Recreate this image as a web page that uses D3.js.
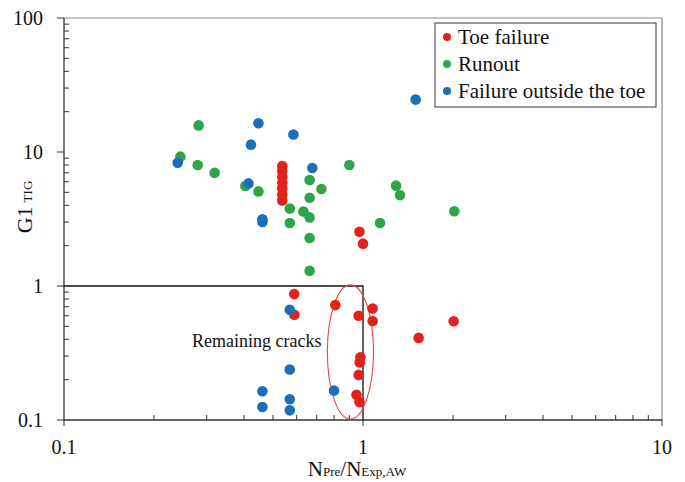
<!DOCTYPE html>
<html>
<head>
<meta charset="utf-8">
<script src="https://cdn.jsdelivr.net/npm/d3@7"></script>
<style>
  body { margin: 0; background: #fff; }
  svg text { font-family: "Liberation Serif", "Times New Roman", serif; fill: #111; }
</style>
</head>
<body>
<div id="chart"></div>
<script>
// values
const toeX = [0.537, 0.537, 0.537, 0.537, 0.537, 0.537, 0.537, 0.973, 1.0, 0.589, 0.589, 0.808, 0.967, 1.077, 1.077, 2.01, 1.535, 0.98, 0.975, 0.967, 0.951, 0.973];
const toeY = [7.85, 7.2, 6.5, 5.9, 5.35, 4.8, 4.35, 2.54, 2.07, 0.87, 0.61, 0.72, 0.60, 0.68, 0.548, 0.545, 0.41, 0.294, 0.269, 0.217, 0.154, 0.136];

const runX = [0.282, 0.245, 0.280, 0.319, 0.404, 0.447, 0.569, 0.569, 0.632, 0.663, 0.663, 0.663, 0.663, 0.663, 0.726, 0.90, 1.29, 1.33, 1.14, 2.02];
const runY = [15.8, 9.23, 8.0, 7.0, 5.57, 5.08, 3.78, 2.95, 3.59, 6.18, 4.56, 3.25, 2.28, 1.30, 5.3, 8.0, 5.61, 4.75, 2.95, 3.61];

const outX = [1.50, 0.447, 0.585, 0.422, 0.240, 0.677, 0.414, 0.461, 0.461, 0.569, 0.569, 0.461, 0.461, 0.569, 0.569, 0.80];
const outY = [24.6, 16.4, 13.5, 11.35, 8.32, 7.6, 5.83, 3.15, 3.0, 0.665, 0.238, 0.164, 0.125, 0.143, 0.118, 0.166];

const seriesNames = ["Toe failure", "Runout", "Failure outside the toe"];
const seriesColors = ["#e3231b", "#2ea548", "#1b6fb8"];

const xTicks = [0.1, 1, 10];
const yTicks = [0.1, 1, 10, 100];
const xTickLabels = ["0.1", "1", "10"];
const yTickLabels = ["0.1", "1", "10", "100"];

const w = 685, h = 482;
const padL = 64, padR = 662, padT = 18, padB = 420;

const svg = d3.select("#chart").append("svg")
  .attr("width", w)
  .attr("height", h);

const x = d3.scaleLog().domain([0.1, 10]).range([padL, padR]);
const y = d3.scaleLog().domain([0.1, 100]).range([padB, padT]);

// minor tick values (every decade 2..9)
function minors(lo, hi) {
  const out = [];
  for (let d = lo; d < hi * 0.99; d *= 10)
    for (let k = 2; k <= 9; k++) out.push(d * k);
  return out;
}

// frame: top + right border
svg.append("path")
  .attr("d", `M${padL},${padT}H${padR}V${padB}`)
  .attr("fill", "none")
  .attr("stroke", "#8a8a8a")
  .attr("stroke-width", 1.2);

// x axis: major ticks out, minor ticks in
const xAxis = svg.append("g").attr("transform", `translate(0,${padB})`);
xAxis.append("line").attr("x1", padL).attr("x2", padR).attr("stroke", "#333").attr("stroke-width", 1.3);
xAxis.selectAll(".maj").data(xTicks).enter().append("line")
  .attr("x1", d => x(d)).attr("x2", d => x(d)).attr("y1", 0).attr("y2", 6)
  .attr("stroke", "#333");
xAxis.selectAll(".min").data(minors(0.1, 10)).enter().append("line")
  .attr("x1", d => x(d)).attr("x2", d => x(d)).attr("y1", 0).attr("y2", -5)
  .attr("stroke", "#333");
xAxis.selectAll(".lab").data(xTicks).enter().append("text")
  .attr("x", d => x(d)).attr("y", 34)
  .attr("text-anchor", "middle")
  .style("font-size", "20px")
  .text((d, i) => xTickLabels[i]);

// y axis
const yAxis = svg.append("g").attr("transform", `translate(${padL},0)`);
yAxis.append("line").attr("y1", padT).attr("y2", padB).attr("stroke", "#333").attr("stroke-width", 1.3);
yAxis.selectAll(".maj").data(yTicks).enter().append("line")
  .attr("y1", d => y(d)).attr("y2", d => y(d)).attr("x1", 0).attr("x2", -7)
  .attr("stroke", "#333");
yAxis.selectAll(".min").data(minors(0.1, 100)).enter().append("line")
  .attr("y1", d => y(d)).attr("y2", d => y(d)).attr("x1", 0).attr("x2", 5)
  .attr("stroke", "#333");
yAxis.selectAll(".lab").data(yTicks).enter().append("text")
  .attr("x", -21).attr("y", d => y(d) + 7)
  .attr("text-anchor", "end")
  .style("font-size", "20px")
  .text((d, i) => yTickLabels[i]);

// axis titles
const xt = svg.append("text")
  .attr("x", 357).attr("y", 476)
  .attr("text-anchor", "middle")
  .style("font-size", "21px");
xt.append("tspan").text("N");
xt.append("tspan").style("font-size", "13px").text("Pre");
xt.append("tspan").text("/N");
xt.append("tspan").style("font-size", "13px").text("Exp,AW");

const yt = svg.append("text")
  .attr("transform", "translate(32,207) rotate(-90)")
  .attr("text-anchor", "middle")
  .style("font-size", "22px");
yt.append("tspan").text("G1");
yt.append("tspan").style("font-size", "13px").attr("dx", 4).text("TIG");

// threshold box (N ratio < 1 and G1 < 1)
svg.append("path")
  .attr("d", `M${x(0.1)},${y(1)}H${x(1)}V${y(0.1)}`)
  .attr("fill", "none")
  .attr("stroke", "#111")
  .attr("stroke-width", 1.3);

// ellipse around the remaining-cracks group
const ex0 = x(0.76), ex1 = x(1.084), ey0 = y(1.02), ey1 = y(0.1017);
svg.append("ellipse")
  .attr("cx", (ex0 + ex1) / 2).attr("cy", (ey0 + ey1) / 2)
  .attr("rx", (ex1 - ex0) / 2).attr("ry", (ey1 - ey0) / 2)
  .attr("fill", "none")
  .attr("stroke", "#e8463e")
  .attr("stroke-width", 1.1);

svg.append("text")
  .attr("x", 192).attr("y", 347)
  .style("font-size", "18px")
  .text("Remaining cracks");

// points
const series = [[toeX, toeY], [runX, runY], [outX, outY]];
series.forEach(function(s, k) {
  svg.append("g").selectAll("circle")
    .data(s[0].map((v, i) => [v, s[1][i]]))
    .enter().append("circle")
    .attr("cx", d => x(d[0]))
    .attr("cy", d => y(d[1]))
    .attr("r", 5.3)
    .attr("fill", seriesColors[k]);
});

// legend
const lg = svg.append("g").attr("transform", "translate(435,23)");
lg.append("rect")
  .attr("width", 221).attr("height", 84)
  .attr("fill", "#fff")
  .attr("stroke", "#555")
  .attr("stroke-width", 1.2);
seriesNames.forEach(function(name, i) {
  const row = lg.append("g").attr("transform", `translate(0,${14 + i * 27})`);
  row.append("circle").attr("cx", 12).attr("cy", 0).attr("r", 4).attr("fill", seriesColors[i]);
  row.append("text").attr("x", 23).attr("y", 7).style("font-size", "21px").text(name);
});
</script>
</body>
</html>
